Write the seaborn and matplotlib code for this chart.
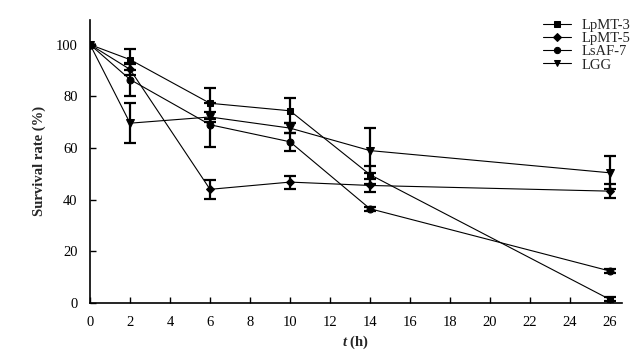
import numpy as np
import pandas as pd
import matplotlib
matplotlib.use("Agg")
import matplotlib.pyplot as plt
import seaborn as sns

times = [0, 2, 6, 10, 14, 26]
series_names = ["LpMT-3", "LpMT-5", "LsAF-7", "LGG"]
lpmt3 = [100, 94.2, 77.3, 74.4, 49.7, 1.4]
lpmt5 = [100, 90.4, 44.0, 46.8, 45.5, 43.3]
lsaf7 = [100, 86.5, 69.0, 62.4, 36.5, 12.4]
lgg = [100, 69.6, 72.0, 67.7, 59.0, 50.4]
lpmt3_err = [0, 4.0, 6.0, 4.8, 3.5, 0.8]
lpmt5_err = [0, 2.0, 3.7, 2.5, 2.5, 2.6]
lsaf7_err = [0, 6.5, 8.6, 3.4, 0.8, 0.8]
lgg_err = [0, 7.7, 2.0, 2.0, 8.7, 6.4]
x_ticks = [0, 2, 4, 6, 8, 10, 12, 14, 16, 18, 20, 22, 24, 26]
y_ticks = [0, 20, 40, 60, 80, 100]

values = [lpmt3, lpmt5, lsaf7, lgg]
errors = [lpmt3_err, lpmt5_err, lsaf7_err, lgg_err]
markers = {"LpMT-3": "s", "LpMT-5": "D", "LsAF-7": "o", "LGG": "v"}
msizes = {"LpMT-3": 5, "LpMT-5": 4.5, "LsAF-7": 5, "LGG": 5.5}

rows = []
for name, vals in zip(series_names, values):
    for t, v in zip(times, vals):
        rows.append({"t": t, "val": v, "series": name})
df = pd.DataFrame(rows)

sns.set_style("ticks")
plt.rcParams["font.family"] = ["Liberation Serif", "DejaVu Serif"]
plt.rcParams["mathtext.fontset"] = "custom"
plt.rcParams["mathtext.it"] = "Liberation Serif:italic:bold"
plt.rcParams["mathtext.rm"] = "Liberation Serif:bold"

fig = plt.figure(figsize=(6.39, 3.54), dpi=100)
ax = fig.add_axes([0.141, 0.144, 0.832, 0.80])

for name, vals, errs in zip(series_names, values, errors):
    sub = df[df["series"] == name]
    sns.lineplot(data=sub, x="t", y="val", ax=ax, color="black", lw=0.8,
                 marker=markers[name], markersize=msizes[name],
                 markeredgecolor="black", markerfacecolor="black",
                 label=name, errorbar=None)
    ax.errorbar(times, vals, yerr=errs, fmt="none", ecolor="black",
                elinewidth=1.6, capsize=4, capthick=1.6)

ax.set_xlim(0, 26.6)
ax.set_ylim(0, 109.6)
ax.set_xticks(x_ticks)
ax.set_yticks(y_ticks)
ax.tick_params(direction="in", length=4, width=1, labelsize=10.5, colors="black", pad=9)
for s in ["top", "right"]:
    ax.spines[s].set_visible(False)
for s in ["left", "bottom"]:
    ax.spines[s].set_linewidth(1.2)
    ax.spines[s].set_color("black")

ax.set_xlabel("$\\mathit{t}$ (h)", fontsize=10.5, fontweight="bold", labelpad=3.5)
ax.set_ylabel("Survival rate (%)", fontsize=10.5, fontweight="bold", labelpad=7)

leg = ax.legend(loc="upper left", bbox_to_anchor=(0.85, 0.947),
                bbox_transform=fig.transFigure, frameon=False,
                fontsize=10.5, handlelength=1.9, labelspacing=0.0,
                handletextpad=0.75, borderaxespad=0.0, borderpad=0.0,
                markerscale=0.9)

fig.savefig("out.png", dpi=100)
